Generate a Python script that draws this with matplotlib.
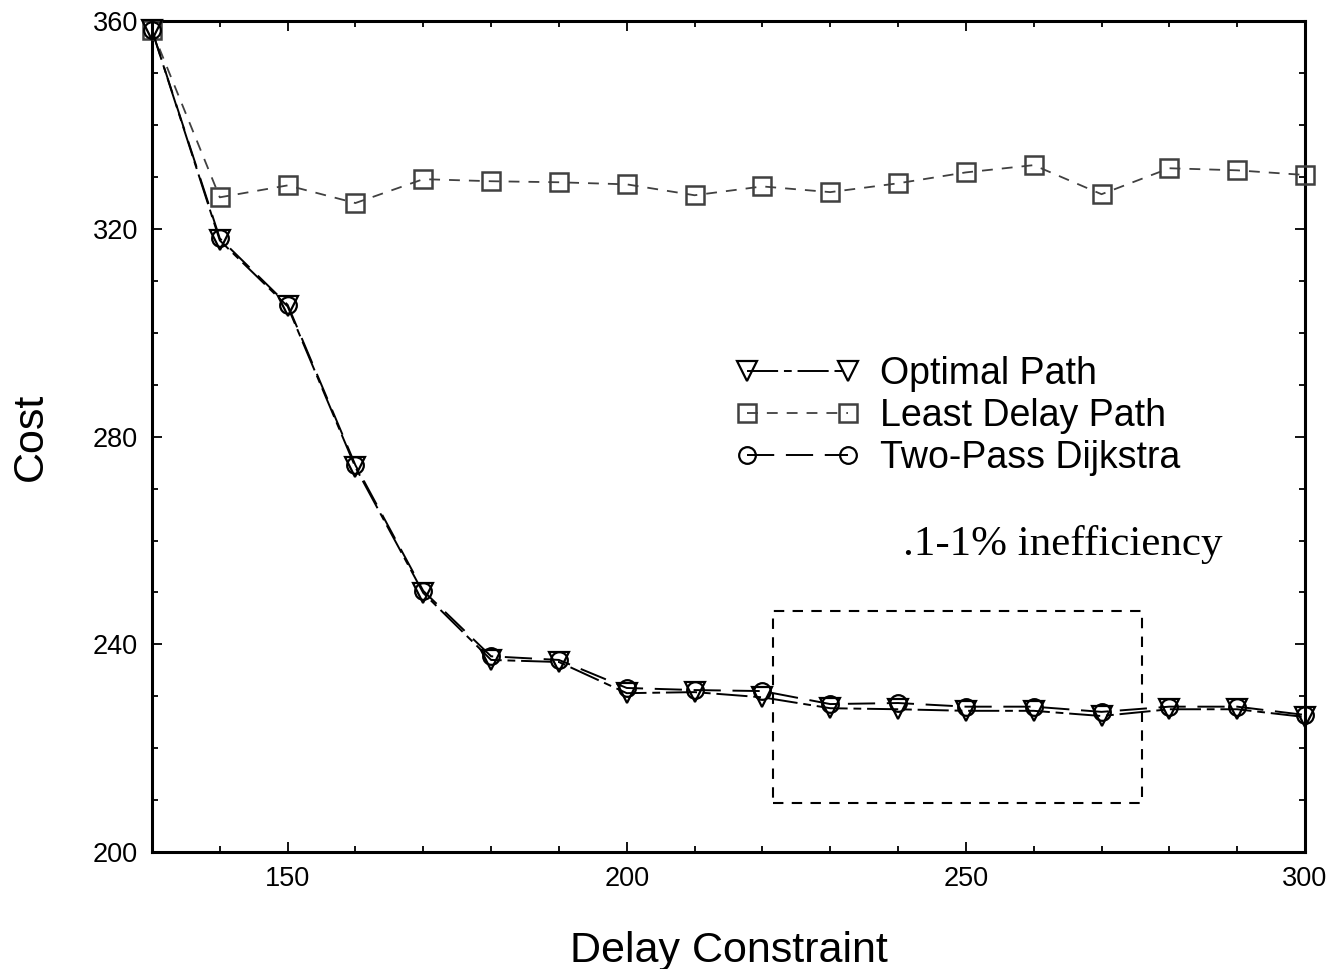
import matplotlib.pyplot as plt
from matplotlib.patches import Rectangle
from matplotlib.ticker import MultipleLocator

delay = [130, 140, 150, 160, 170, 180, 190, 200, 210, 220,
         230, 240, 250, 260, 270, 280, 290, 300]

optimal = [358.3, 317.8, 305.1, 274.1, 249.9, 237.0, 236.6, 230.6, 230.8, 229.8,
           227.7, 227.5, 227.2, 227.2, 226.2, 227.5, 227.5, 226.0]
least_delay = [358.3, 326.1, 328.4, 325.0, 329.6, 329.2, 329.0, 328.6, 326.5, 328.2,
               327.1, 328.8, 330.9, 332.3, 326.7, 331.7, 331.3, 330.4]
two_pass = [358.3, 318.2, 305.4, 274.5, 250.3, 237.7, 237.0, 231.6, 231.2, 231.0,
            228.5, 228.7, 228.0, 228.0, 227.0, 228.0, 228.0, 226.4]

# box around the flat part of the curve
box_x = (221.6, 276.0)
box_y = (209.4, 246.4)

plt.rcParams['font.family'] = ['Liberation Sans', 'DejaVu Sans']

fig = plt.figure(figsize=(13.33, 9.69), dpi=100)
ax = fig.add_axes([0.114, 0.1207, 0.865, 0.8573])

ax.plot(delay, least_delay, color='#404040', lw=1.3, dashes=(6, 5),
        marker='s', ms=13, mfc='none', mec='#404040', mew=1.8, label='Least Delay Path',
        clip_on=False, zorder=3)
ax.plot(delay, optimal, color='black', lw=1.4, dashes=(16, 3, 4, 3),
        marker='v', ms=14, mfc='none', mec='black', mew=1.6, label='Optimal Path',
        clip_on=False, zorder=4)
ax.plot(delay, two_pass, color='black', lw=1.4, dashes=(14, 6),
        marker='o', ms=12, mfc='none', mec='black', mew=1.6, label='Two-Pass Dijkstra',
        clip_on=False, zorder=4)

ax.add_patch(Rectangle((box_x[0], box_y[0]), box_x[1] - box_x[0], box_y[1] - box_y[0],
                       fill=False, ec='black', lw=1.5, ls=(0, (5, 4))))

ax.text(264.3, 259.3, '.1-1% inefficiency', fontsize=31,
        family=['Liberation Serif', 'DejaVu Serif'], ha='center', va='center')

ax.set_xlim(130, 300)
ax.set_ylim(200, 360)
ax.xaxis.set_major_locator(MultipleLocator(50))
ax.xaxis.set_minor_locator(MultipleLocator(10))
ax.yaxis.set_major_locator(MultipleLocator(40))
ax.yaxis.set_minor_locator(MultipleLocator(10))
ax.tick_params(which='both', direction='in', top=True, right=True, labelsize=19.5)
ax.tick_params(axis='x', which='both', pad=10)
ax.tick_params(axis='y', which='both', pad=10)
ax.tick_params(which='major', length=7, width=1.3)
ax.tick_params(which='minor', length=4, width=1.3)
for s in ax.spines.values():
    s.set_linewidth(2.2)

ax.set_xlabel('Delay Constraint', fontsize=31, labelpad=28)
ax.set_ylabel('Cost', fontsize=31, labelpad=30)

handles, labels = ax.get_legend_handles_labels()
order = [1, 0, 2]
ax.legend([handles[i] for i in order], [labels[i] for i in order],
          loc='upper left', bbox_to_anchor=(0.49, 0.62), frameon=False,
          fontsize=27, numpoints=2, handlelength=3.3, handletextpad=0.55,
          labelspacing=0.16, borderpad=0)

fig.savefig('out.png', dpi=100)
